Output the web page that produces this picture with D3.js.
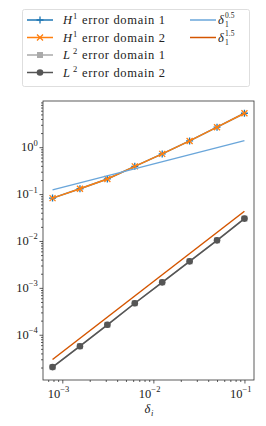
<!DOCTYPE html>
<html>
<head>
<meta charset="utf-8">
<script src="https://cdn.jsdelivr.net/npm/d3@7"></script>
<style>
  html, body { margin: 0; padding: 0; background: #fff; }
</style>
</head>
<body>
<div id="chart"></div>
<script>
// step sizes (halving from 0.1)
const deltas = [0.00078125, 0.0015625, 0.003125, 0.00625, 0.0125, 0.025, 0.05, 0.1];

const h1Domain1 = [0.082, 0.13, 0.21, 0.39, 0.72, 1.36, 2.67, 5.3];
const h1Domain2 = [0.082, 0.13, 0.21, 0.39, 0.72, 1.36, 2.67, 5.3];
const l2Domain1 = [2.04e-5, 5.7e-5, 1.63e-4, 4.7e-4, 1.31e-3, 3.68e-3, 1.03e-2, 3.0e-2];
const l2Domain2 = [2.04e-5, 5.7e-5, 1.63e-4, 4.7e-4, 1.31e-3, 3.68e-3, 1.03e-2, 3.0e-2];

// reference slopes, endpoints
const refX = [0.00078125, 0.1];
const ref05 = [0.123, 1.38];
const ref15 = [2.97e-5, 0.043];

const xTicks = [1e-3, 1e-2, 1e-1];
const yTicks = [1e-4, 1e-3, 1e-2, 1e-1, 1e0];

const series = [
    { name: 'H', sup: '1', text: 'error domain 1', values: h1Domain1, color: '#1f77b4', marker: 'plus' },
    { name: 'H', sup: '1', text: 'error domain 2', values: h1Domain2, color: '#ff7f0e', marker: 'x' },
    { name: 'L', sup: '2', text: 'error domain 1', values: l2Domain1, color: '#aaaaaa', marker: 'square' },
    { name: 'L', sup: '2', text: 'error domain 2', values: l2Domain2, color: '#555555', marker: 'circle' }
];
const refs = [
    { sup: '0.5', values: ref05, color: '#6aa6da' },
    { sup: '1.5', values: ref15, color: '#d45500' }
];

const width = 266, height = 426;
const margin = { top: 101, right: 12, bottom: 46, left: 43 };
const fs = 12.5, fsSmall = 8.5;
const serif = "'Liberation Serif', 'DejaVu Serif', 'Times New Roman', serif";

const svg = d3.select('#chart').append('svg')
    .attr('width', width)
    .attr('height', height)
    .attr('font-family', serif)
    .style('font-family', serif);

const x = d3.scaleLog()
    .domain([Math.pow(10, -3.212), Math.pow(10, -0.895)])
    .range([margin.left, width - margin.right]);

const y = d3.scaleLog()
    .domain([Math.pow(10, -4.965), Math.pow(10, 0.985)])
    .range([height - margin.bottom, margin.top]);

const supLabel = (v) => {
    const e = Math.round(Math.log10(v));
    return { base: '10', exp: e < 0 ? '\u2212' + Math.abs(e) : String(e) };
};

function minorTicks(scale) {
    const [d0, d1] = scale.domain();
    const out = [];
    for (let e = Math.floor(Math.log10(d0)); e <= Math.ceil(Math.log10(d1)); e++) {
        for (let m = 2; m <= 9; m++) {
            const v = m * Math.pow(10, e);
            if (v >= d0 && v <= d1) out.push(v);
        }
    }
    return out;
}

function addText(g, attrs, str) {
    const t = g.append('text').attr('fill', '#222').style('font-family', serif);
    Object.entries(attrs).forEach(([k, v]) => t.attr(k, v));
    return t.text(str);
}

// axes
const xAxis = svg.append('g').attr('transform', `translate(0,${height - margin.bottom})`);
xAxis.call(d3.axisBottom(x).tickValues(minorTicks(x)).tickSize(2).tickFormat(''));
xAxis.append('g').call(d3.axisBottom(x).tickValues(xTicks).tickSize(3.5).tickFormat(''));

const yAxis = svg.append('g').attr('transform', `translate(${margin.left},0)`);
yAxis.call(d3.axisLeft(y).tickValues(minorTicks(y)).tickSize(2).tickFormat(''));
yAxis.append('g').call(d3.axisLeft(y).tickValues(yTicks).tickSize(3.5).tickFormat(''));

svg.selectAll('.domain').remove();
svg.selectAll('.tick line').attr('stroke', '#333').attr('stroke-width', 0.8);

xTicks.forEach(v => {
    const l = supLabel(v);
    const cx = x(v);
    addText(svg, { x: cx - 2, y: height - margin.bottom + 18, 'text-anchor': 'end', 'font-size': fs }, l.base);
    addText(svg, { x: cx - 2, y: height - margin.bottom + 12, 'font-size': fsSmall }, l.exp);
});

yTicks.forEach(v => {
    const l = supLabel(v);
    const cy = y(v);
    const expW = l.exp.length * 4.6;
    addText(svg, { x: margin.left - 5 - expW, y: cy + 4, 'text-anchor': 'end', 'font-size': fs }, l.base);
    addText(svg, { x: margin.left - 5 - expW, y: cy - 1.5, 'font-size': fsSmall }, l.exp);
});

const xl = (margin.left + width - margin.right) / 2;
addText(svg, { x: xl - 4, y: height - margin.bottom + 33, 'font-size': fs, 'font-style': 'italic' }, 'δ');
addText(svg, { x: xl + 2.5, y: height - margin.bottom + 36, 'font-size': fsSmall, 'font-style': 'italic' }, 'i');

// lines
const line = d3.line().x(d => x(d[0])).y(d => y(d[1]));

function drawMarker(g, type, cx, cy, color) {
    if (type === 'plus') {
        g.append('path').attr('d', `M${cx - 3.5},${cy}H${cx + 3.5}M${cx},${cy - 3.5}V${cy + 3.5}`)
            .attr('stroke', color).attr('stroke-width', 1.3);
    } else if (type === 'x') {
        g.append('path').attr('d', `M${cx - 3},${cy - 3}L${cx + 3},${cy + 3}M${cx - 3},${cy + 3}L${cx + 3},${cy - 3}`)
            .attr('stroke', color).attr('stroke-width', 1.3);
    } else if (type === 'square') {
        g.append('rect').attr('x', cx - 3).attr('y', cy - 3).attr('width', 6).attr('height', 6).attr('fill', color);
    } else {
        g.append('circle').attr('cx', cx).attr('cy', cy).attr('r', 3.3).attr('fill', color);
    }
}

const plot = svg.append('g');

series.forEach(s => {
    const pts = deltas.map((d, i) => [d, s.values[i]]);
    plot.append('path').datum(pts).attr('d', line)
        .attr('fill', 'none').attr('stroke', s.color).attr('stroke-width', 1.5);
    const mg = plot.append('g');
    pts.forEach(p => drawMarker(mg, s.marker, x(p[0]), y(p[1]), s.color));
});

refs.forEach(r => {
    const pts = refX.map((d, i) => [d, r.values[i]]);
    plot.append('path').datum(pts).attr('d', line)
        .attr('fill', 'none').attr('stroke', r.color).attr('stroke-width', 1.5);
});

// frame
svg.append('rect')
    .attr('x', margin.left).attr('y', margin.top)
    .attr('width', width - margin.left - margin.right)
    .attr('height', height - margin.top - margin.bottom)
    .attr('fill', 'none').attr('stroke', '#333').attr('stroke-width', 0.8);

// legend
const legend = svg.append('g');
legend.append('rect')
    .attr('x', 22.5).attr('y', 9.5).attr('width', 227).attr('height', 77).attr('rx', 2)
    .attr('fill', '#fff').attr('stroke', '#d6d6d6').attr('stroke-width', 0.8);

const rowY = (i) => 20 + i * 17.5;

series.forEach((s, i) => {
    const cy = rowY(i);
    legend.append('line').attr('x1', 27).attr('x2', 53).attr('y1', cy).attr('y2', cy)
        .attr('stroke', s.color).attr('stroke-width', 1.5);
    drawMarker(legend, s.marker, 40, cy, s.color);
    addText(legend, { x: 63, y: cy + 4, 'font-size': fs, 'font-style': 'italic' }, s.name);
    addText(legend, { x: 73, y: cy - 1, 'font-size': fsSmall }, s.sup);
    addText(legend, { x: 82, y: cy + 4, 'font-size': fs, textLength: 83, lengthAdjust: 'spacing' }, s.text);
});

refs.forEach((r, i) => {
    const cy = rowY(i);
    legend.append('line').attr('x1', 190).attr('x2', 216).attr('y1', cy).attr('y2', cy)
        .attr('stroke', r.color).attr('stroke-width', 1.5);
    addText(legend, { x: 218, y: cy + 4, 'font-size': fs, 'font-style': 'italic' }, 'δ');
    addText(legend, { x: 225, y: cy - 2, 'font-size': 7.5 }, r.sup);
    addText(legend, { x: 225, y: cy + 7, 'font-size': 7.5 }, '1');
});
</script>
</body>
</html>
